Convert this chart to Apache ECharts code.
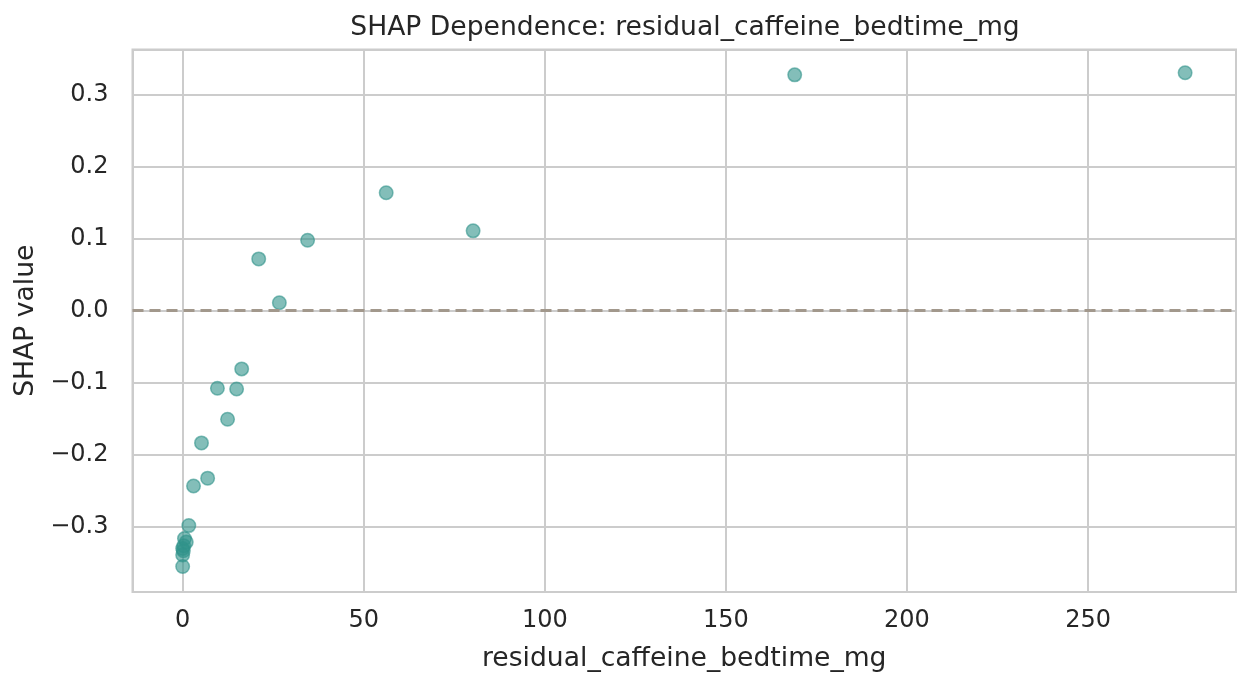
<!DOCTYPE html>
<html>
<head>
<meta charset="utf-8">
<script src="https://cdn.jsdelivr.net/npm/echarts@6/dist/echarts.min.js"></script>
<style>
  html, body { margin: 0; padding: 0; background: #fff; }
  #chart-main { width: 1251px; height: 688px; }
</style>
</head>
<body>
<div id="chart-main"></div>
<script>
// residual caffeine at bedtime (mg) vs SHAP value
const caffeineMg = [0.5, 1.0, 0.3, 0.0, 0.2, 0.0, 0.0, 1.7, 3.0, 6.9, 5.2, 12.4, 9.6, 14.9, 16.3, 26.7, 21.0, 34.5, 56.2, 80.2, 169.0, 276.8]
const shapValues = [-0.317, -0.322, -0.327, -0.331, -0.334, -0.340, -0.356, -0.299, -0.244, -0.233, -0.184, -0.151, -0.108, -0.109, -0.081, 0.011, 0.072, 0.098, 0.164, 0.111, 0.328, 0.331]

const xTicks = [0, 50, 100, 150, 200, 250]
const yTicks = [-0.3, -0.2, -0.1, 0.0, 0.1, 0.2, 0.3]
const xRange = [-13.85, 290.85]
const yRange = [-0.3914, 0.3633]

const points = caffeineMg.map((x, i) => [x, shapValues[i]])

const onTick = (v, ticks) => ticks.some((t) => Math.abs(t - v) < 1e-6)
const fmtY = (v) => {
  const s = Math.abs(v).toFixed(1)
  return v < -1e-9 ? '\u2212' + s : s
}

const font = 'DejaVu Sans'
const textColor = '#262626'
const gridColor = '#cccccc'

const myChart = echarts.init(document.getElementById('chart-main'))
myChart.setOption({
  animation: false,
  backgroundColor: '#ffffff',
  textStyle: { fontFamily: font },
  title: {
    text: 'SHAP Dependence: residual_caffeine_bedtime_mg',
    left: 680,
    textAlign: 'center',
    top: 10,
    textStyle: { fontFamily: font, fontSize: 26.6, fontWeight: 'normal', color: textColor }
  },
  grid: {
    left: 132.5,
    right: 15,
    top: 49.5,
    bottom: 96,
    show: true,
    borderColor: gridColor,
    borderWidth: 2,
    backgroundColor: 'transparent'
  },
  xAxis: {
    type: 'value',
    min: xRange[0],
    max: xRange[1],
    splitNumber: 6,
    name: 'residual_caffeine_bedtime_mg',
    nameLocation: 'middle',
    nameGap: 54,
    nameTextStyle: { fontFamily: font, fontSize: 26.6, color: textColor },
    axisLine: { show: false },
    axisTick: { show: false },
    axisLabel: {
      fontFamily: font,
      fontSize: 24,
      color: textColor,
      margin: 17,
      showMinLabel: false,
      showMaxLabel: false,
      formatter: (v) => (onTick(v, xTicks) ? String(Math.round(v)) : '')
    },
    splitLine: { show: true, lineStyle: { color: gridColor, width: 2 } }
  },
  yAxis: {
    type: 'value',
    min: yRange[0],
    max: yRange[1],
    splitNumber: 8,
    name: 'SHAP value',
    nameLocation: 'middle',
    nameGap: 90,
    nameTextStyle: { fontFamily: font, fontSize: 26.6, color: textColor },
    axisLine: { show: false },
    axisTick: { show: false },
    axisLabel: {
      fontFamily: font,
      fontSize: 24,
      color: textColor,
      margin: 24,
      showMinLabel: false,
      showMaxLabel: false,
      formatter: (v) => (onTick(v, yTicks) ? fmtY(v) : '')
    },
    splitLine: { show: true, lineStyle: { color: gridColor, width: 2 } }
  },
  series: [
    {
      type: 'scatter',
      data: points,
      symbol: 'circle',
      symbolSize: 13.5,
      itemStyle: {
        color: '#30928a',
        opacity: 0.6,
        borderColor: '#30928a',
        borderWidth: 1.5
      },
      markLine: {
        silent: true,
        symbol: 'none',
        label: { show: false },
        lineStyle: { color: '#a2988c', type: [11, 6], width: 3 },
        data: [{ yAxis: 0 }]
      }
    }
  ]
})
</script>
</body>
</html>
